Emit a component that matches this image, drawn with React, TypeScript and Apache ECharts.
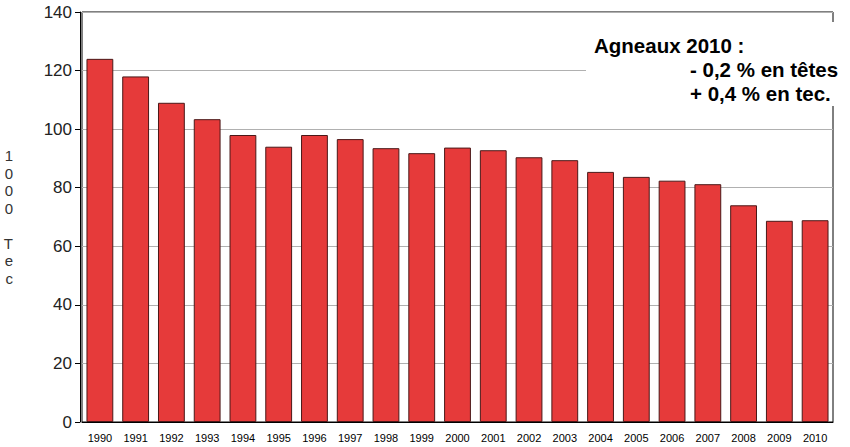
import React, { useEffect, useRef } from "react";
import * as echarts from "echarts";

const years = ["1990","1991","1992","1993","1994","1995","1996","1997","1998","1999","2000","2001","2002","2003","2004","2005","2006","2007","2008","2009","2010"];
const values = [124, 118, 109, 103.4, 98, 94, 98, 96.6, 93.5, 91.8, 93.7, 92.8, 90.4, 89.4, 85.4, 83.7, 82.4, 81.2, 74, 68.7, 68.9];
const yTitle = "1\n0\n0\n0\n\nT\ne\nc";
const noteTitle = "Agneaux 2010 :";
const noteLines = ["- 0,2 % en têtes", "+ 0,4 % en tec."];

export default function App() {
  const ref = useRef<HTMLDivElement>(null);
  useEffect(() => {
    if (!ref.current) return;
    const chart = echarts.init(ref.current, null, { renderer: "svg" });
    const noteFont = "bold 20.5px 'Liberation Sans', Arial";
    chart.setOption({
      animation: false,
      backgroundColor: "#fff",
      grid: { left: 82, right: 17, top: 12, bottom: 25, show: true, borderColor: "#000", borderWidth: 1, backgroundColor: "transparent" },
      xAxis: {
        type: "category",
        data: years,
        axisTick: { show: false },
        axisLine: { lineStyle: { color: "#000", width: 1 } },
        axisLabel: { fontFamily: "Liberation Sans, Arial", fontSize: 11, color: "#000", margin: 10, interval: 0 },
      },
      yAxis: {
        type: "value",
        min: 0,
        max: 140,
        interval: 20,
        offset: 2,
        name: yTitle,
        nameLocation: "middle",
        nameRotate: 0,
        nameGap: 67,
        nameTextStyle: { fontFamily: "Liberation Sans, Arial", fontSize: 15, color: "#333", lineHeight: 17.5 },
        axisLine: { show: true, lineStyle: { color: "#000", width: 1 } },
        axisTick: { show: true, length: 5, lineStyle: { color: "#000" } },
        axisLabel: { fontFamily: "Liberation Sans, Arial", fontSize: 17, color: "#222", margin: 8 },
        splitLine: { lineStyle: { color: "#b0b0b0", width: 1 } },
      },
      series: [
        {
          type: "bar",
          data: values,
          barCategoryGap: "25%",
          itemStyle: { color: "#e63a3a", borderColor: "#4a1818", borderWidth: 1 },
        },
      ],
      graphic: [
        { type: "rect", z: 100, shape: { x: 586, y: 22, width: 264, height: 84 }, style: { fill: "#fff" } },
        { type: "text", z: 101, x: 594, y: 45, style: { text: noteTitle, font: noteFont, fill: "#000", textVerticalAlign: "middle" } },
        { type: "text", z: 101, x: 690, y: 69, style: { text: noteLines[0], font: noteFont, fill: "#000", textVerticalAlign: "middle" } },
        { type: "text", z: 101, x: 690, y: 93, style: { text: noteLines[1], font: noteFont, fill: "#000", textVerticalAlign: "middle" } },
      ],
    });
    return () => chart.dispose();
  }, []);
  return <div ref={ref} style={{ width: 850, height: 447, position: "fixed", left: 0, top: 0 }} />;
}
